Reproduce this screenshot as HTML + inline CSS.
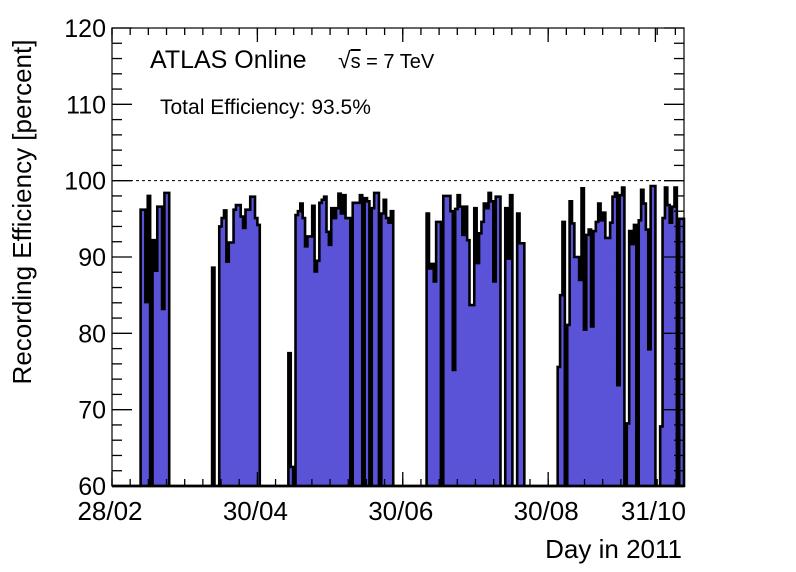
<!DOCTYPE html>
<html><head><meta charset="utf-8"><style>
body{margin:0;background:#fff}
svg{display:block;font-family:"Liberation Sans",sans-serif}
</style></head><body>
<svg id="chart" width="796" height="572" viewBox="0 0 796 572">
<rect width="796" height="572" fill="#fff"/>
<g id="bars"></g>
<g id="axes"></g>
<text x="150" y="68" font-size="25">ATLAS Online</text>
<text x="338" y="68" font-size="20"><tspan font-size="23">√</tspan><tspan text-decoration="overline">s</tspan> = 7 TeV</text>
<text x="160" y="114" font-size="21">Total Efficiency: 93.5%</text>
<text transform="translate(31,212) rotate(-90)" text-anchor="middle" font-size="26">Recording Efficiency [percent]</text>
<text x="682" y="558" text-anchor="end" font-size="26">Day in 2011</text>
</svg>
<script>
const nBins = 240;
const binIndex = [12,13,14,15,16,17,18,19,20,21,22,23,42,45,46,47,48,49,50,51,52,53,54,55,56,57,58,59,60,61,74,75,
77,78,79,80,81,82,83,84,85,86,87,88,89,90,91,92,93,94,95,96,97,98,99,100,101,102,103,104,105,106,107,108,109,110,111,112,113,114,115,116,117,
132,133,134,135,136,137,138,139,140,141,142,143,144,145,146,147,148,149,150,151,152,153,154,155,156,157,158,159,160,161,162,163,164,165,166,167,168,169,170,171,172,
187,188,189,190,191,192,193,194,195,196,197,198,199,200,201,202,203,204,205,206,207,208,209,210,211,212,213,214,215,216,217,218,219,220,221,222,223,224,225,226,227,228,229,230,231,232,233,234,235,236,237,238,239];
const efficiency = [96.2,96.2,84.1,98,0,92.2,88.2,96.6,96.6,83.2,98.4,98.4,88.6,94,95.1,96.1,89.4,91.9,91.9,96.2,96.8,96.8,95.3,93.8,96.2,96.2,97.9,97.9,95.1,94.2,77.4,62.5,
95.5,96,97,95.1,91.4,92.7,92.7,96.7,88.1,89.5,97.1,97.5,97.9,93.3,91.6,96.4,95.1,96.4,98.3,95.7,98.1,95.1,95.1,0,97.1,97.1,97.1,98.1,0,97.7,97.3,0,96.4,98.4,98.4,0,95.7,97.5,95.1,94.5,96.0,
95.7,88.5,89.1,86.8,94.6,94.6,0,98,98,98,96,75.2,96.3,98.1,96.6,92.9,96.6,92.2,83.7,83.7,96.4,89.2,93.1,94.6,97,96.4,98.4,97.3,86.8,97.9,97.9,0,0,96.4,89.8,98.1,0,0,95.7,91.8,91.8,
75.6,85,94.6,0,81.1,97.3,94.4,90,90,87,99,80.5,92.9,93.6,80.9,93.4,94.6,97,94.8,95.8,92.5,92.5,94.5,97.9,98.4,73.2,98.1,99.1,0,68.2,93.4,91.7,94.2,0,94.8,98.8,97,93.6,77.9,99.3,99.3,0,0,67.8,95.1,99.1,96.8,94.5,96.6,99.1,0,95,95];
const yTicks = [60,70,80,90,100,110,120];
const xTickBins = [0,61,122,183,228];
const xTickLabels = ["28/02","30/04","30/06","30/08","31/10"];

const X0=112, X1=684, Y0=486, Y1=28, YMIN=60, YMAX=120;
const sx = b => X0 + b*(X1-X0)/nBins;
const sy = v => Y0 - (Math.max(v,YMIN)-YMIN)*(Y0-Y1)/(YMAX-YMIN);
const NS="http://www.w3.org/2000/svg";
function mk(tag, attrs, parent){const e=document.createElementNS(NS,tag);for(const k in attrs)e.setAttribute(k,attrs[k]);parent.appendChild(e);return e;}

const vals=new Array(nBins).fill(0);
binIndex.forEach((b,i)=>{vals[b]=efficiency[i];});
const bars=document.getElementById('bars');
let d=`M${X0},${Y0}`;
for(let b=0;b<nBins;b++){d+=` L${sx(b)},${sy(vals[b])} L${sx(b+1)},${sy(vals[b])}`;}
d+=` L${X1},${Y0} Z`;
const fillP=mk('path',{d:d,fill:'#5a53d8',stroke:'#000','stroke-width':2.6,'stroke-linejoin':'miter'},bars);



const axes=document.getElementById('axes');
const dash=mk('line',{x1:X0,x2:X1,y1:sy(100),y2:sy(100),stroke:'#000','stroke-width':1,'stroke-dasharray':'3,3'},axes);


const frame=mk('rect',{x:X0,y:Y1,width:X1-X0,height:Y0-Y1,fill:'none',stroke:'#000','stroke-width':1.2},axes);


mk('line',{x1:X0,x2:X1,y1:Y0,y2:Y0,stroke:'#000','stroke-width':2.5},axes);
for(let v=YMIN; v<=YMAX; v+=2){
  const major=(v%10===0), L=major?20:10, y=sy(v);
  mk('line',{x1:X0,x2:X0+L,y1:y,y2:y,stroke:'#000','stroke-width':1.3},axes);
  mk('line',{x1:X1,x2:X1-L,y1:y,y2:y,stroke:'#000','stroke-width':1.3},axes);
}
yTicks.forEach(v=>{
  const t=mk('text',{x:X0-6,y:sy(v)+9,'text-anchor':'end','font-size':25},axes);
  t.textContent=v;
  
  
});
const minorStep=(xTickBins[1]-xTickBins[0])/8;
for(let b=0;b<=nBins;b+=minorStep){
  mk('line',{x1:sx(b),x2:sx(b),y1:Y0,y2:Y0-7,stroke:'#000','stroke-width':1.3},axes);
  mk('line',{x1:sx(b),x2:sx(b),y1:Y1,y2:Y1+7,stroke:'#000','stroke-width':1.3},axes);
}
xTickBins.forEach((b,i)=>{
  mk('line',{x1:sx(b),x2:sx(b),y1:Y0,y2:Y0-14,stroke:'#000','stroke-width':1.3},axes);
  mk('line',{x1:sx(b),x2:sx(b),y1:Y1,y2:Y1+14,stroke:'#000','stroke-width':1.3},axes);
  const t=mk('text',{x:sx(b)-2,y:Y0+34,'text-anchor':'middle','font-size':26},axes);
  t.textContent=xTickLabels[i];
  
  
});
</script>
</body></html>
